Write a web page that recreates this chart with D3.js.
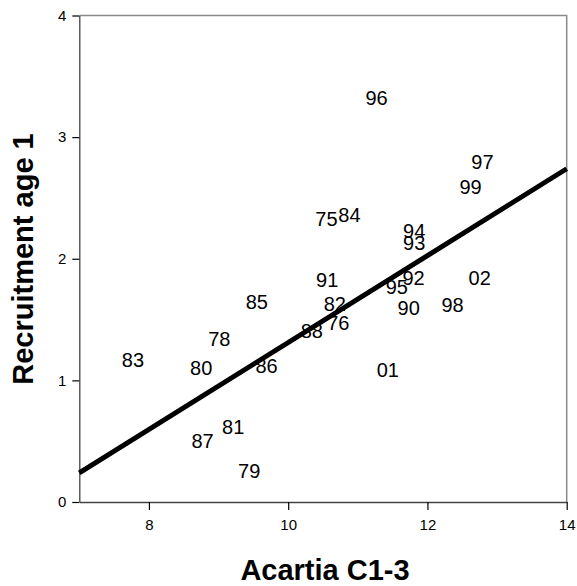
<!DOCTYPE html>
<html>
<head>
<meta charset="utf-8">
<script src="https://cdn.jsdelivr.net/npm/d3@7"></script>
<style>
  html, body { margin: 0; padding: 0; background: #fff; }
  svg { display: block; font-family: Arial, "Liberation Sans", sans-serif; }
</style>
</head>
<body>
<svg id="chart" width="577" height="586"></svg>
<script>
// Year labels (two-digit) with Acartia C1-3 abundance (x) and recruitment at age 1 (y)
const years = ["75","76","78","79","80","81","82","83","84","85","86","87","88","90","91","92","93","94","95","96","97","98","99","01","02"];
const acartia = [10.55,10.72,9.01,9.44,8.75,9.21,10.67,7.77,10.88,9.55,9.69,8.77,10.34,11.73,10.56,11.80,11.81,11.81,11.56,11.27,12.79,12.36,12.62,11.43,12.75];
const recruitment = [2.33,1.47,1.34,0.26,1.10,0.62,1.63,1.17,2.36,1.65,1.12,0.50,1.41,1.60,1.83,1.84,2.13,2.23,1.77,3.32,2.80,1.62,2.59,1.09,1.84];

// Fitted regression line end points
const fitX = [7, 14];
const fitY = [0.24, 2.74];

const xTicks = [8, 10, 12, 14];
const yTicks = [0, 1, 2, 3, 4];

const svg = d3.select("#chart");
const plot = { left: 79.3, right: 566.7, top: 15.5, bottom: 502 };

const x = d3.scaleLinear().domain([7, 14]).range([plot.left, plot.right]);
const y = d3.scaleLinear().domain([0, 4]).range([plot.bottom, plot.top]);

// plot frame (top and right)
svg.append("path")
  .attr("d", `M${plot.left},${plot.top}H${plot.right}V${plot.bottom}`)
  .attr("fill", "none")
  .attr("stroke", "#8a8a8a")
  .attr("stroke-width", 1.5);

// x axis
const xAxis = svg.append("g")
  .attr("transform", `translate(0,${plot.bottom})`)
  .call(d3.axisBottom(x).tickValues(xTicks).tickFormat(d3.format("d"))
    .tickSize(8).tickPadding(9).tickSizeOuter(0));
xAxis.select(".domain").attr("stroke", "#444").attr("stroke-width", 1.3);
xAxis.selectAll(".tick line").attr("stroke", "#000").attr("stroke-width", 1.2);
xAxis.selectAll("text").attr("font-size", 15).attr("fill", "#000")
  .attr("font-family", "Arial, 'Liberation Sans', sans-serif");

// y axis
const yAxis = svg.append("g")
  .attr("transform", `translate(${plot.left},0)`)
  .call(d3.axisLeft(y).tickValues(yTicks).tickFormat(d3.format("d"))
    .tickSize(7).tickPadding(6).tickSizeOuter(0));
yAxis.select(".domain").attr("stroke", "#444").attr("stroke-width", 1.3);
yAxis.selectAll(".tick line").attr("stroke", "#000").attr("stroke-width", 1.2);
yAxis.selectAll("text").attr("font-size", 15).attr("fill", "#000")
  .attr("font-family", "Arial, 'Liberation Sans', sans-serif");

// regression line
svg.append("line")
  .attr("x1", x(fitX[0])).attr("y1", y(fitY[0]))
  .attr("x2", x(fitX[1])).attr("y2", y(fitY[1]))
  .attr("stroke", "#000")
  .attr("stroke-width", 5);

// year labels placed at each point
const fs = 20;
svg.append("g").selectAll("text")
  .data(years)
  .join("text")
  .attr("x", (d, i) => x(acartia[i]))
  .attr("y", (d, i) => y(recruitment[i]) + 0.36 * fs)
  .attr("text-anchor", "middle")
  .attr("font-size", fs)
  .attr("fill", "#000")
  .text(d => d);

// axis titles
svg.append("text")
  .attr("x", (plot.left + plot.right) / 2 + 2)
  .attr("y", 580)
  .attr("text-anchor", "middle")
  .attr("font-size", 29)
  .attr("font-weight", "bold")
  .text("Acartia C1-3");

svg.append("text")
  .attr("transform", `translate(33,259) rotate(-90)`)
  .attr("text-anchor", "middle")
  .attr("font-size", 29)
  .attr("font-weight", "bold")
  .text("Recruitment age 1");
</script>
</body>
</html>
